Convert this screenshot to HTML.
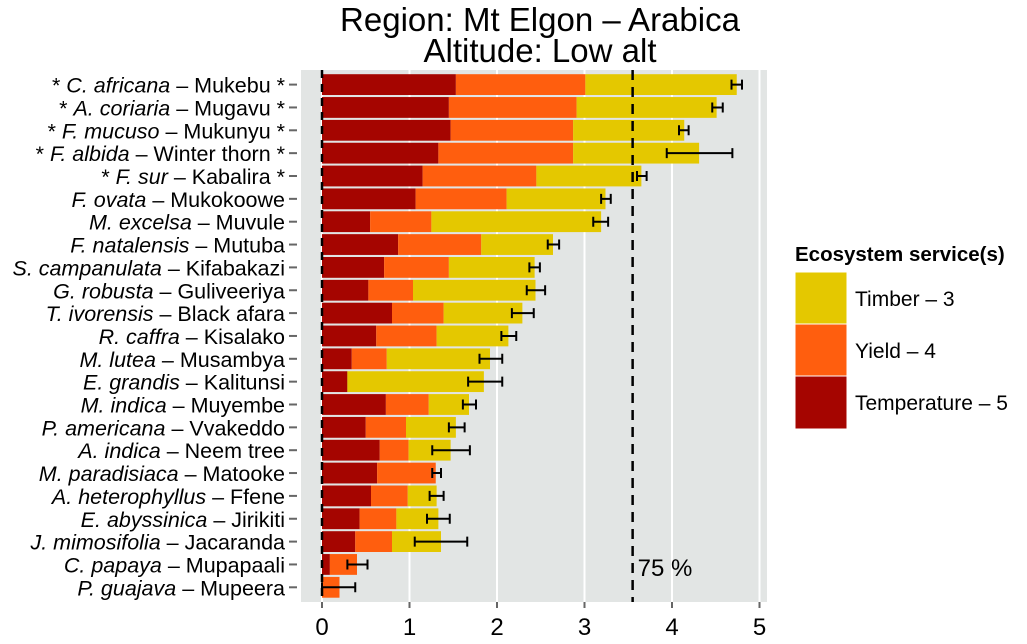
<!DOCTYPE html>
<html><head><meta charset="utf-8"><style>
body{margin:0;background:#fff;width:1027px;height:639px;overflow:hidden;font-family:"Liberation Sans",Arial,sans-serif}
svg text{font-family:"Liberation Sans",Arial,sans-serif}
</style></head><body>
<svg id="chart" width="1027" height="639" viewBox="0 0 1027 639" xmlns="http://www.w3.org/2000/svg">
<text x="540" y="31" font-size="33" text-anchor="middle">Region: Mt Elgon – Arabica</text>
<text x="540" y="62" font-size="33" text-anchor="middle">Altitude: Low alt</text>
<rect x="301" y="70" width="466" height="532" fill="#E2E5E4"/>
<g id="grid"></g><g id="bars"></g><g id="ylab"></g><g id="xax"></g>
<g>
<text x="795" y="261" font-size="20.5" font-weight="bold">Ecosystem service(s)</text>
<rect x="795" y="272" width="52" height="52" fill="#E4C800" stroke="#fff"/>
<rect x="795" y="324" width="52" height="52" fill="#FF5E0E" stroke="#fff"/>
<rect x="795" y="376" width="52" height="53" fill="#A50500" stroke="#fff"/>
<text x="855" y="306" font-size="21">Timber – 3</text>
<text x="855" y="358" font-size="21">Yield – 4</text>
<text x="855" y="410" font-size="21">Temperature – 5</text>
</g>
</svg>
<script>
const species=["C. africana","A. coriaria","F. mucuso","F. albida","F. sur","F. ovata","M. excelsa","F. natalensis","S. campanulata","G. robusta","T. ivorensis","R. caffra","M. lutea","E. grandis","M. indica","P. americana","A. indica","M. paradisiaca","A. heterophyllus","E. abyssinica","J. mimosifolia","C. papaya","P. guajava"];
const localNames=["Mukebu *","Mugavu *","Mukunyu *","Winter thorn *","Kabalira *","Mukokoowe","Muvule","Mutuba","Kifabakazi","Guliveeriya","Black afara","Kisalako","Musambya","Kalitunsi","Muyembe","Vvakeddo","Neem tree","Matooke","Ffene","Jirikiti","Jacaranda","Mupapaali","Mupeera"];
const starred=[1,1,1,1,1,0,0,0,0,0,0,0,0,0,0,0,0,0,0,0,0,0,0];
const temperature=[1.53,1.45,1.47,1.33,1.15,1.07,0.55,0.87,0.71,0.53,0.80,0.62,0.34,0.29,0.73,0.50,0.66,0.63,0.56,0.43,0.38,0.09,0];
const yieldV=[1.48,1.46,1.40,1.54,1.30,1.04,0.70,0.95,0.74,0.51,0.59,0.69,0.40,0,0.49,0.46,0.33,0.67,0.42,0.42,0.42,0.31,0.20];
const timber=[1.73,1.60,1.27,1.44,1.20,1.13,1.94,0.82,0.98,1.40,0.90,0.82,1.18,1.56,0.46,0.57,0.48,0,0.33,0.48,0.56,0,0];
const errLow=[4.68,4.46,4.08,3.94,3.60,3.19,3.10,2.58,2.37,2.34,2.17,2.05,1.80,1.67,1.61,1.45,1.26,1.26,1.23,1.20,1.06,0.29,0];
const errHigh=[4.80,4.58,4.19,4.69,3.71,3.30,3.27,2.71,2.49,2.55,2.42,2.22,2.06,2.06,1.76,1.63,1.69,1.36,1.39,1.46,1.66,0.52,0.38];
const xTicks=[0,1,2,3,4,5];
const threshold=3.55;
const NS="http://www.w3.org/2000/svg";
const x=v=>322+v*87.5;
const yc=i=>84.6+i*22.85;
function mk(tag,attrs,parent){const e=document.createElementNS(NS,tag);for(const k in attrs)e.setAttribute(k,attrs[k]);document.getElementById(parent).appendChild(e);return e;}
xTicks.forEach(t=>{
  const g=mk('line',{x1:x(t),x2:x(t),y1:70,y2:602,stroke:'#fff','stroke-width':2},'grid');
  
  
  const tk=mk('line',{x1:x(t),x2:x(t),y1:602,y2:608,stroke:'#666','stroke-width':2},'xax');
  
  
  const tl=mk('text',{x:x(t),y:635,'font-size':24,'text-anchor':'middle'},'xax');
  tl.textContent=t;
  
  
});
species.forEach((s,i)=>{
  const top=yc(i)-10.4,h=20.8;
  const segs=[[0,temperature[i],'#A50500','bar-temperature'],[temperature[i],temperature[i]+yieldV[i],'#FF5E0E','bar-yield'],[temperature[i]+yieldV[i],temperature[i]+yieldV[i]+timber[i],'#E4C800','bar-timber']];
  segs.forEach(sg=>{if(sg[1]>sg[0]){const r=mk('rect',{x:x(sg[0]),y:top,width:x(sg[1])-x(sg[0]),height:h,fill:sg[2]},'bars');
    
    }});
  const el=mk('path',{d:`M${x(errLow[i])},${yc(i)}H${x(errHigh[i])}M${x(errLow[i])},${yc(i)-5}V${yc(i)+5}M${x(errHigh[i])},${yc(i)-5}V${yc(i)+5}`,stroke:'#000','stroke-width':2,fill:'none'},'bars');
  
  
  const tk=mk('line',{x1:289,x2:297,y1:yc(i),y2:yc(i),stroke:'#666','stroke-width':2},'ylab');
  
  
  const t=mk('text',{x:285,y:yc(i)+8,'font-size':21.5,'text-anchor':'end'},'ylab');
  
  
  if(starred[i]){const a=document.createElementNS(NS,'tspan');a.textContent='* ';t.appendChild(a);}
  const it=document.createElementNS(NS,'tspan');it.setAttribute('font-style','italic');it.textContent=s;t.appendChild(it);
  const rest=document.createElementNS(NS,'tspan');rest.textContent=' – '+localNames[i];t.appendChild(rest);
});
const z=mk('line',{x1:x(0),x2:x(0),y1:70,y2:602,stroke:'#000','stroke-width':2.5,'stroke-dasharray':'8,6'},'bars');


const th=mk('line',{x1:x(threshold),x2:x(threshold),y1:70,y2:602,stroke:'#000','stroke-width':2.5,'stroke-dasharray':'10,7'},'bars');


const tt=mk('text',{x:x(threshold)+5,y:576,'font-size':24},'bars');
tt.textContent='75 %';


</script>
</body></html>
